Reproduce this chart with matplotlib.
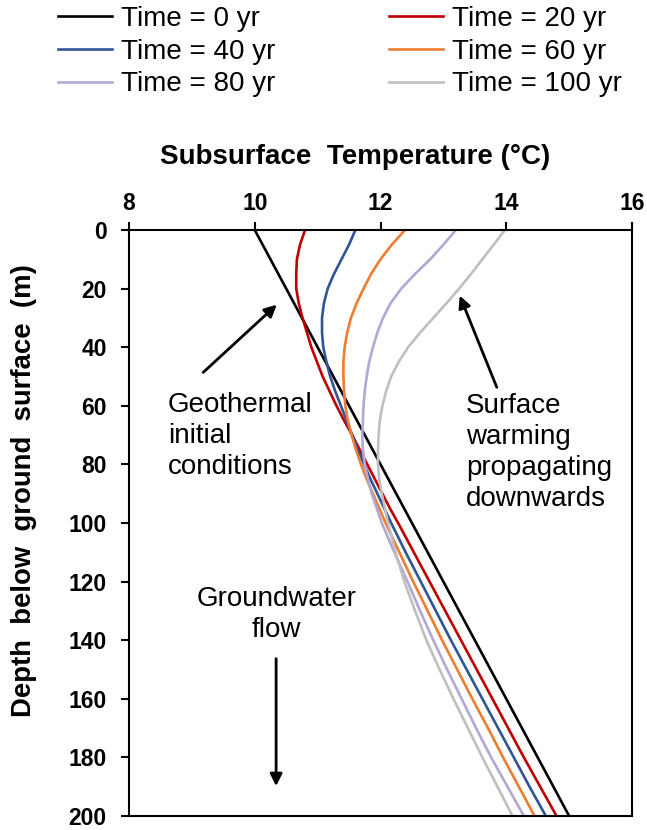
import numpy as np
import matplotlib.pyplot as plt

plt.rcParams['font.family'] = ['Liberation Sans', 'DejaVu Sans']

# depth below ground surface (m): every 5 m down to 100 m, then every 10 m
depth = [0, 5, 10, 15, 20, 25, 30, 35, 40, 45, 50, 55, 60, 65, 70, 75, 80, 85, 90, 95, 100,
         110, 120, 130, 140, 150, 160, 170, 180, 190, 200]

# subsurface temperature (degC) at each depth
t_0 = [10.000, 10.125, 10.250, 10.375, 10.500, 10.625, 10.750, 10.875, 11.000, 11.125,
       11.250, 11.375, 11.500, 11.625, 11.750, 11.875, 12.000, 12.125, 12.250, 12.375,
       12.500, 12.750, 13.000, 13.250, 13.500, 13.750, 14.000, 14.250, 14.500, 14.750, 15.000]
t_20 = [10.80, 10.72, 10.67, 10.66, 10.66, 10.70, 10.76, 10.83, 10.90, 10.99,
        11.08, 11.19, 11.30, 11.42, 11.55, 11.67, 11.79, 11.91, 12.03, 12.15,
        12.28, 12.53, 12.78, 13.03, 13.28, 13.53, 13.78, 14.03, 14.28, 14.54, 14.80]
t_40 = [11.60, 11.50, 11.38, 11.26, 11.16, 11.10, 11.07, 11.07, 11.09, 11.14,
        11.20, 11.28, 11.37, 11.46, 11.55, 11.64, 11.74, 11.84, 11.95, 12.06,
        12.17, 12.40, 12.64, 12.88, 13.12, 13.37, 13.62, 13.87, 14.12, 14.37, 14.63]
t_60 = [12.39, 12.18, 12.00, 11.85, 11.73, 11.62, 11.53, 11.47, 11.43, 11.41,
        11.41, 11.42, 11.44, 11.48, 11.54, 11.61, 11.69, 11.78, 11.88, 11.98,
        12.08, 12.30, 12.52, 12.75, 12.98, 13.22, 13.46, 13.71, 13.95, 14.20, 14.45]
t_80 = [13.20, 13.00, 12.79, 12.55, 12.33, 12.16, 12.04, 11.95, 11.88, 11.82,
        11.78, 11.75, 11.73, 11.72, 11.71, 11.72, 11.75, 11.80, 11.86, 11.94,
        12.02, 12.22, 12.43, 12.63, 12.84, 13.06, 13.29, 13.52, 13.76, 14.02, 14.28]
t_100 = [13.98, 13.80, 13.62, 13.44, 13.25, 13.05, 12.84, 12.63, 12.44, 12.29,
         12.17, 12.09, 12.03, 11.99, 11.97, 11.96, 11.96, 11.98, 12.02, 12.07,
         12.12, 12.24, 12.38, 12.55, 12.73, 12.94, 13.16, 13.39, 13.62, 13.86, 14.10]

labels = ['Time = 0 yr', 'Time = 20 yr', 'Time = 40 yr',
          'Time = 60 yr', 'Time = 80 yr', 'Time = 100 yr']
colors = ['#000000', '#C00000', '#2F5597', '#ED7D31', '#B4A7D6', '#BFBFBF']
series = [t_0, t_20, t_40, t_60, t_80, t_100]

fig = plt.figure(figsize=(6.47, 8.3), dpi=100)
ax = fig.add_axes([129 / 647, 14 / 830, 503 / 647, 586 / 830])

lines = []
for temps, lab, col in zip(series, labels, colors):
    ln, = ax.plot(temps, depth, color=col, lw=1.9, label=lab)
    lines.append(ln)

ax.set_xlim(8, 16)
ax.set_ylim(200, 0)
ax.set_xticks([8, 10, 12, 14, 16])
ax.set_yticks(np.arange(0, 201, 20))
ax.xaxis.tick_top()
ax.xaxis.set_label_position('top')
ax.tick_params(direction='out', length=6, width=1.5)
for lbl in ax.get_xticklabels() + ax.get_yticklabels():
    lbl.set_fontsize(16.5)
    lbl.set_fontweight('bold')
ax.tick_params(axis='x', pad=5)
ax.tick_params(axis='y', pad=10)
for sp in ax.spines.values():
    sp.set_linewidth(1.5)

ax.set_xlabel('Subsurface  Temperature (\u00b0C)', fontsize=20, fontweight='bold')
ax.xaxis.label.set_va('baseline')
ax.xaxis.set_label_coords(0.450, 1.1126)
ax.set_ylabel('Depth  below  ground  surface  (m)', fontsize=19.8, fontweight='bold')
ax.yaxis.label.set_va('center')
ax.yaxis.set_label_coords(-0.2087, 0.556)

# annotations
arrow = dict(arrowstyle='-|>', color='k', lw=2, mutation_scale=18, shrinkA=0, shrinkB=0)
ax.text(8.62, 70.4, 'Geothermal\ninitial\nconditions', fontsize=20,
        ha='left', va='center', linespacing=1.24)
ax.annotate('', xy=(10.35, 25.5), xytext=(9.18, 48.6), arrowprops=arrow)

ax.text(13.36, 75.9, 'Surface\nwarming\npropagating\ndownwards', fontsize=20,
        ha='left', va='center', linespacing=1.24)
ax.annotate('', xy=(13.26, 22.4), xytext=(13.85, 53.7), arrowprops=arrow)

ax.text(10.35, 131.3, 'Groundwater\nflow', fontsize=20,
        ha='center', va='center', linespacing=1.24)
ax.annotate('', xy=(10.34, 189.8), xytext=(10.34, 146.3), arrowprops=arrow)

# legend laid out row-wise: 0/20, 40/60, 80/100
order = [0, 2, 4, 1, 3, 5]
fig.legend([lines[i] for i in order], [labels[i] for i in order],
           loc='upper left', bbox_to_anchor=(58 / 647, 1 - 6 / 830), ncol=2,
           frameon=False, fontsize=20, handlelength=1.95, handletextpad=0.32,
           columnspacing=4.1, labelspacing=0.24, borderpad=0, borderaxespad=0)

fig.savefig('out.png', dpi=100)
